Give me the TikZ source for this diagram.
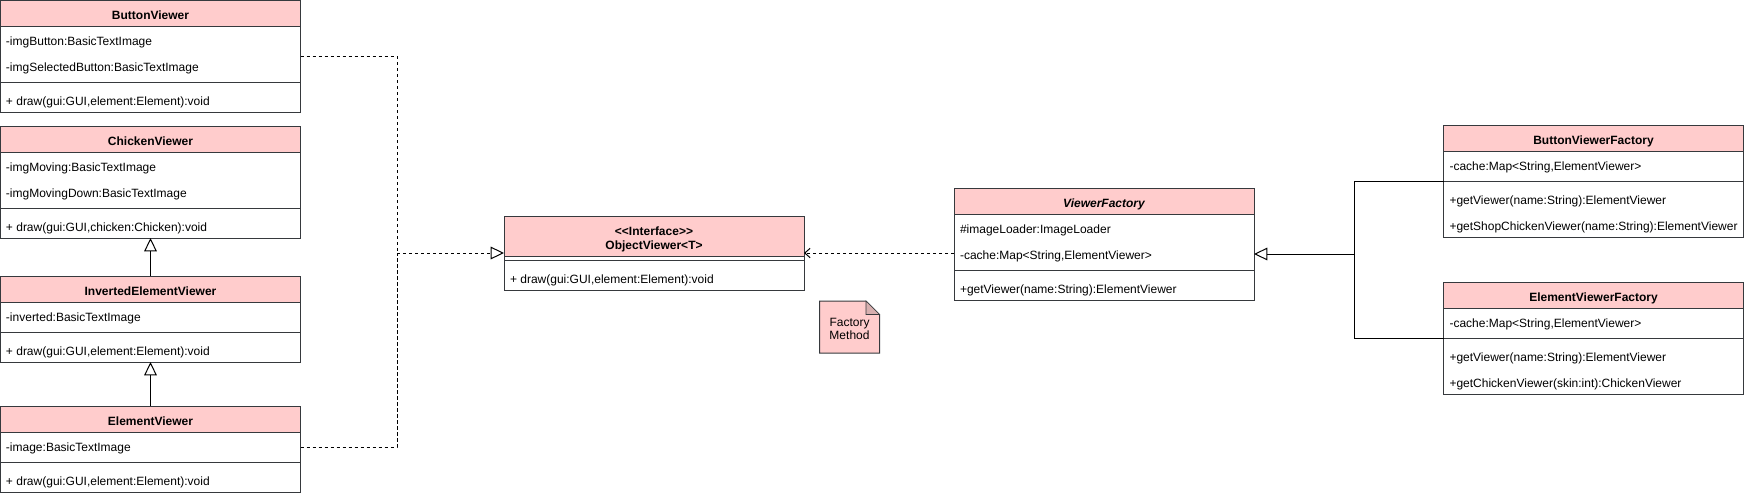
\documentclass[tikz,border=0pt]{standalone}
\usepackage{fontspec}
\setmainfont{Liberation Sans}
\usepackage{tikz}
\usetikzlibrary{positioning,fit,calc,arrows.meta}
\definecolor{hdrpink}{HTML}{FFCCCC}
\definecolor{umlline}{HTML}{36393D}

\begin{document}
\begin{tikzpicture}[
    x=0.75pt, y=-0.75pt,
    font=\fontsize{9}{10}\selectfont,
    every node/.style={inner sep=0pt, outer sep=0pt},
    hdr/.style={draw=umlline, fill=hdrpink, line width=0.75pt, minimum width=225pt, minimum height=19.5pt, text height=9.4pt, text depth=0.4pt, font=\fontsize{9}{10}\selectfont\bfseries},
    sect/.style={draw=umlline, fill=white, line width=0.75pt, minimum width=225pt},
    mem/.style={anchor=west, text height=6.5pt, text depth=1.8pt, yshift=-1.6pt},
    gen/.style={-{Triangle[open, length=10pt, width=9.5pt]}, line width=0.75pt, black},
    link/.style={line width=0.75pt, black, dash pattern=on 2.5pt off 2pt},
    real/.style={link, -{Triangle[open, length=10pt, width=9.5pt]}},
    dep/.style={link, -{Straight Barb[length=4pt, width=7pt]}},
    notebox/.style={draw=umlline, fill=hdrpink, line width=0.75pt},
]
\useasboundingbox (0,0) rectangle (1745,496);

% ButtonViewer
\node[hdr, anchor=north west] (bv) at (0.5,0.5) {ButtonViewer};
\node[sect, minimum height=42pt, below=0pt of bv] (bv-a) {};
\node[sect, minimum height=22.5pt, below=0pt of bv-a] (bv-m) {};
\node[mem] (bv-a1) at (6,40.5) {-imgButton:BasicTextImage};
\node[mem] (bv-a2) at (6,66.5) {-imgSelectedButton:BasicTextImage};
\node[mem] (bv-m1) at (6,100.5) {+ draw(gui:GUI,element:Element):void};
\node[fit=(bv)(bv-m)] (bvc) {};

% ChickenViewer
\node[hdr, anchor=north west] (cv) at (0.5,126) {ChickenViewer};
\node[sect, minimum height=42pt, below=0pt of cv] (cv-a) {};
\node[sect, minimum height=22.5pt, below=0pt of cv-a] (cv-m) {};
\node[mem] (cv-a1) at (6,166.5) {-imgMoving:BasicTextImage};
\node[mem] (cv-a2) at (6,192.5) {-imgMovingDown:BasicTextImage};
\node[mem] (cv-m1) at (6,226.5) {+ draw(gui:GUI,chicken:Chicken):void};

% InvertedElementViewer
\node[hdr, anchor=north west] (iev) at (0.5,276) {InvertedElementViewer};
\node[sect, minimum height=22.5pt, below=0pt of iev] (iev-a) {};
\node[sect, minimum height=22.5pt, below=0pt of iev-a] (iev-m) {};
\node[mem] (iev-a1) at (6,316.5) {-inverted:BasicTextImage};
\node[mem] (iev-m1) at (6,350.5) {+ draw(gui:GUI,element:Element):void};

% ElementViewer
\node[hdr, anchor=north west] (ev) at (0.5,406) {ElementViewer};
\node[sect, minimum height=22.5pt, below=0pt of ev] (ev-a) {};
\node[sect, minimum height=22.5pt, below=0pt of ev-a] (ev-m) {};
\node[mem] (ev-a1) at (6,446.5) {-image:BasicTextImage};
\node[mem] (ev-m1) at (6,480.5) {+ draw(gui:GUI,element:Element):void};

% ObjectViewer interface
\node[hdr, anchor=north west, minimum height=30pt, text height=19.5pt, text depth=0pt, align=center] (ov) at (504,216) {<\kern0pt<Interface>\kern0pt>\\ObjectViewer<T>};
\node[sect, minimum height=3pt, below=0pt of ov] (ov-a) {};
\node[sect, minimum height=22.5pt, below=0pt of ov-a] (ov-m) {};
\node[mem] (ov-m1) at (510,278.5) {+ draw(gui:GUI,element:Element):void};
\node[fit=(ov)(ov-m)] (ovc) {};

% ViewerFactory
\node[hdr, anchor=north west, font=\fontsize{9}{10}\selectfont\bfseries\itshape] (vf) at (954,188) {ViewerFactory};
\node[sect, minimum height=42pt, below=0pt of vf] (vf-a) {};
\node[sect, minimum height=22.5pt, below=0pt of vf-a] (vf-m) {};
\node[mem] (vf-a1) at (960,228.5) {\#imageLoader:ImageLoader};
\node[mem] (vf-a2) at (960,254.5) {-cache:Map<String,ElementViewer>};
\node[mem] (vf-m1) at (960,288.5) {+getViewer(name:String):ElementViewer};

% ButtonViewerFactory
\node[hdr, anchor=north west] (bvf) at (1443.5,125) {ButtonViewerFactory};
\node[sect, minimum height=22.5pt, below=0pt of bvf] (bvf-a) {};
\node[sect, minimum height=42pt, below=0pt of bvf-a] (bvf-m) {};
\node[mem] (bvf-a1) at (1449.5,165.5) {-cache:Map<String,ElementViewer>};
\node[mem] (bvf-m1) at (1449.5,199.5) {+getViewer(name:String):ElementViewer};
\node[mem] (bvf-m2) at (1449.5,225.5) {+getShopChickenViewer(name:String):ElementViewer};

% ElementViewerFactory
\node[hdr, anchor=north west] (evf) at (1443.5,282) {ElementViewerFactory};
\node[sect, minimum height=22.5pt, below=0pt of evf] (evf-a) {};
\node[sect, minimum height=42pt, below=0pt of evf-a] (evf-m) {};
\node[mem] (evf-a1) at (1449.5,322.5) {-cache:Map<String,ElementViewer>};
\node[mem] (evf-m1) at (1449.5,356.5) {+getViewer(name:String):ElementViewer};
\node[mem] (evf-m2) at (1449.5,382.5) {+getChickenViewer(skin:int):ChickenViewer};

% note
\draw[notebox] (819.5,301) -- (866,301) -- (879.5,314.5) -- (879.5,353) -- (819.5,353) -- cycle;
\draw[notebox, fill=hdrpink!80!umlline, line width=0.4pt] (866,301) -- (866,314.5) -- (879.5,314.5) -- cycle;
\node[align=center] (fm) at (849.5,329) {Factory\\Method};

% inheritance
\draw[gen] (iev.north) -- (cv-m.south);
\draw[gen] (ev.north) -- (iev-m.south);

% realization
\coordinate (rj) at (397,253);
\draw[link] (bvc.east) -| (rj);
\draw[link] (ev-a.east) -| (rj);
\draw[real] (rj) -- (ovc.west);

% dependency
\draw[dep] (ovc.east -| vf-a.west) -- (ovc.east);

% factories
\coordinate (fj) at (1354,254);
\draw[line width=0.75pt] (bvf-a.south west) -| (fj);
\draw[line width=0.75pt] (evf-a.south west) -| (fj);
\draw[gen] (fj) -- (fj -| vf-a.east);
\end{tikzpicture}
\end{document}
